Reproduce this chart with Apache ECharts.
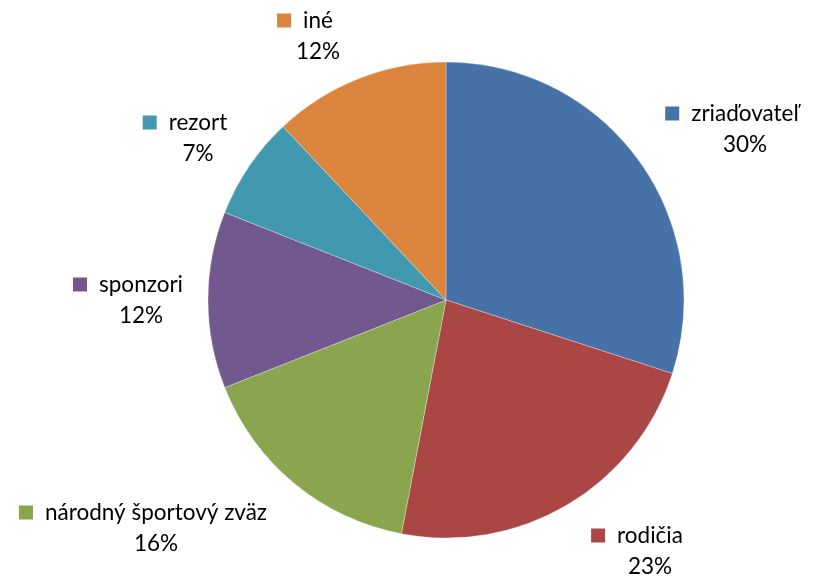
<!DOCTYPE html>
<html>
<head>
<meta charset="utf-8">
<script src="https://cdn.jsdelivr.net/npm/echarts@6/dist/echarts.min.js"></script>
<style>
  html, body { margin: 0; padding: 0; background: #ffffff; }
  #chart { width: 815px; height: 577px; }
</style>
</head>
<body>
<div id="chart"></div>
<script>
// Funding sources, clockwise from 12 o'clock
const categories = ['zriaďovateľ', 'rodičia', 'národný športový zväz', 'sponzori', 'rezort', 'iné'];
const shares = [30, 23, 16, 12, 7, 12];
const colors = ['#4672A8', '#AA4644', '#89A54E', '#71588F', '#4198AF', '#DB843D'];

// Label anchor points (text centre of the block) around the pie
const labelAnchors = [
  [745, 129], [650, 551], [156, 528], [141, 300], [198, 138], [318, 36]
];

const chart = echarts.init(document.getElementById('chart'), null, { renderer: 'canvas' });

const FONT = 'Lato, "Open Sans", "Liberation Sans", sans-serif';

chart.setOption({
  backgroundColor: '#ffffff',
  animation: false,
  series: [{
    type: 'pie',
    center: [446, 300],
    radius: 238,
    startAngle: 90,
    clockwise: true,
    avoidLabelOverlap: false,
    data: categories.map((name, i) => ({
      name,
      value: shares[i],
      itemStyle: { color: colors[i] },
      label: {
        rich: {
          m: { width: 14, height: 14, backgroundColor: colors[i], verticalAlign: 'middle' }
        }
      }
    })),
    itemStyle: { borderColor: 'rgba(255,255,255,0.5)', borderWidth: 0.6 },
    labelLine: { show: false },
    label: {
      show: true,
      position: 'outside',
      formatter: p => '{m|}{g|}{n|' + p.name + '}{r|}\n{p|' + p.value + '%}',
      align: 'center',
      verticalAlign: 'middle',
      rich: {
        g: { width: 12 },
        r: { width: 26 },
        n: { fontFamily: FONT, fontSize: 22.5, color: '#000000', lineHeight: 31 },
        p: { fontFamily: FONT, fontSize: 22.5, color: '#000000', lineHeight: 31 }
      }
    },
    labelLayout: params => ({
      x: labelAnchors[params.dataIndex][0],
      y: labelAnchors[params.dataIndex][1],
      align: 'center',
      verticalAlign: 'middle'
    }),
    emphasis: { disabled: true }
  }]
});
</script>
</body>
</html>
